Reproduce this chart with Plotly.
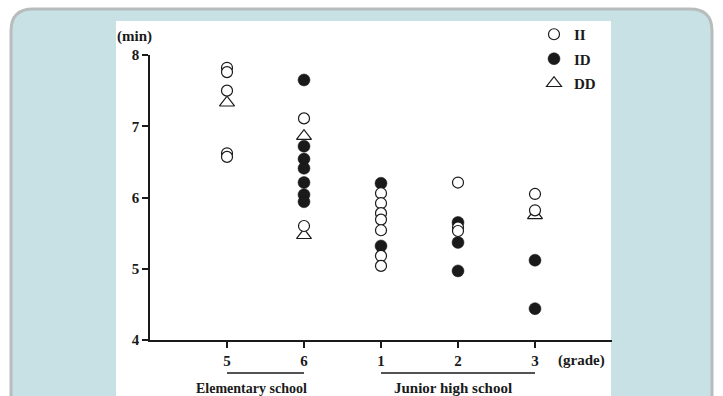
import plotly.graph_objects as go

# Grade categories along the x axis (elementary 5, 6 then junior high 1, 2, 3)
grades = ["5", "6", "1", "2", "3"]

# II genotype (open circles)
ii_grade = ["5", "5", "5", "5", "5",
            "6", "6",
            "1", "1", "1", "1", "1", "1", "1",
            "2", "2", "2",
            "3", "3"]
ii_time = [7.82, 7.76, 7.50, 6.62, 6.57,
           7.11, 5.60,
           6.06, 5.92, 5.78, 5.69, 5.54, 5.18, 5.04,
           6.21, 5.58, 5.53,
           6.05, 5.82]

# ID genotype (filled circles)
id_grade = ["6", "6", "6", "6", "6", "6", "6",
            "1", "1",
            "2", "2", "2",
            "3", "3"]
id_time = [7.65, 6.72, 6.54, 6.41, 6.21, 6.04, 5.94,
           6.20, 5.32,
           5.65, 5.37, 4.97,
           5.12, 4.44]

# DD genotype (open triangles)
dd_grade = ["5", "6", "6", "3"]
dd_time = [7.33, 6.86, 5.47, 5.75]

y_ticks = [4, 5, 6, 7, 8]

# School levels and the grades each one spans
schools = ["Elementary school", "Junior high school"]
school_span = [("5", "6"), ("1", "3")]

W, H = 723, 396
PL, PR, PT, PB = 150, 612, 55, 340


def fx(px):
    return (px - PL) / (PR - PL)


def fy(py):
    return (PB - py) / (PB - PT)


SERIF = "Liberation Serif"
INK = "#1a1a1a"

fig = go.Figure()

fig.add_trace(go.Scatter(
    x=dd_grade, y=dd_time, mode="markers", name="DD",
    legendgroup="DD", legendrank=3,
    marker=dict(symbol="triangle-up", size=13, color="white",
                line=dict(color=INK, width=1.2)),
    cliponaxis=False,
))
fig.add_trace(go.Scatter(
    x=id_grade, y=id_time, mode="markers", name="ID",
    legendgroup="ID", legendrank=2,
    marker=dict(symbol="circle", size=12, color=INK,
                line=dict(color=INK, width=0.5)),
    cliponaxis=False,
))
fig.add_trace(go.Scatter(
    x=ii_grade, y=ii_time, mode="markers", name="II",
    legendgroup="II", legendrank=1,
    marker=dict(symbol="circle", size=11, color="white",
                line=dict(color=INK, width=1.2)),
    cliponaxis=False,
))

# Rounded teal card behind the chart, and the white chart panel
L, R, T, B, rad = 11, 712, 9, 430, 22
card = (f"M {fx(L + rad)},{fy(T)} L {fx(R - rad)},{fy(T)} "
        f"Q {fx(R)},{fy(T)} {fx(R)},{fy(T + rad)} "
        f"L {fx(R)},{fy(B)} L {fx(L)},{fy(B)} L {fx(L)},{fy(T + rad)} "
        f"Q {fx(L)},{fy(T)} {fx(L + rad)},{fy(T)} Z")
shapes = [
    dict(type="path", xref="paper", yref="paper", path=card,
         fillcolor="#c8e1e5", line=dict(color="#b9bcbd", width=3), layer="below"),
    dict(type="rect", xref="paper", yref="paper",
         x0=fx(116), x1=fx(611), y0=fy(21), y1=fy(405),
         fillcolor="white", line=dict(width=0), layer="below"),
]
# school-level brackets under the grade labels (category index positions)
for g0, g1 in school_span:
    shapes.append(dict(type="line", xref="x", yref="paper",
                       x0=grades.index(g0), x1=grades.index(g1),
                       y0=fy(373), y1=fy(373), line=dict(color=INK, width=1.5)))

label_font = dict(family=SERIF, size=15, color=INK, weight="bold")
annotations = [
    dict(text="(min)", x=fx(134.5), y=fy(36), xref="paper", yref="paper",
         showarrow=False, xanchor="center", yanchor="middle", font=label_font),
    dict(text="(grade)", x=fx(556), y=fy(360), xref="paper", yref="paper",
         showarrow=False, xanchor="left", yanchor="middle", font=label_font),
    dict(text=schools[0], x=fx(251), y=fy(388), xref="paper", yref="paper",
         showarrow=False, xanchor="center", yanchor="middle",
         font=dict(family=SERIF, size=14, color=INK, weight="bold")),
    dict(text=schools[1], x=fx(453), y=fy(388), xref="paper", yref="paper",
         showarrow=False, xanchor="center", yanchor="middle", font=label_font),
]

axis_common = dict(
    showline=True, linecolor=INK, linewidth=1.5,
    ticks="outside", ticklen=6, tickwidth=1.5, tickcolor=INK,
    showgrid=False, zeroline=False,
    tickfont=dict(family=SERIF, size=15, color=INK, weight="bold"),
)

fig.update_layout(
    width=W, height=H,
    margin=dict(l=PL, r=W - PR, t=PT, b=H - PB),
    paper_bgcolor="white", plot_bgcolor="rgba(0,0,0,0)",
    xaxis=dict(type="category", categoryorder="array", categoryarray=grades,
               range=[-1, 5], **axis_common),
    yaxis=dict(range=[4, 8], tickvals=y_ticks, **axis_common),
    shapes=shapes,
    annotations=annotations,
    showlegend=True,
    legend=dict(x=fx(534), y=fy(18), xanchor="left", yanchor="top",
                traceorder="grouped", tracegroupgap=2,
                bgcolor="rgba(0,0,0,0)",
                font=dict(family=SERIF, size=15, color=INK, weight="bold")),
)

fig.write_html("out.html")
